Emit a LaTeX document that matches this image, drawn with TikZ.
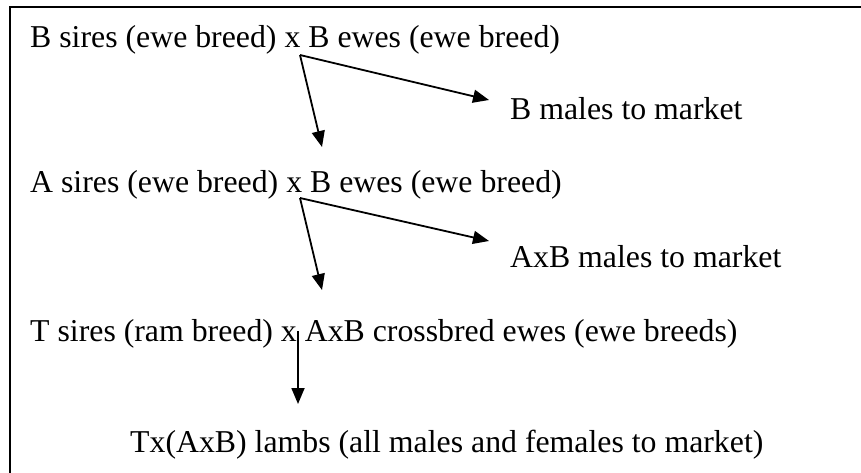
\documentclass[tikz,border=0pt]{standalone}
\usepackage{fontspec}
\setmainfont{Liberation Serif}
\usetikzlibrary{arrows.meta}
\begin{document}
\begin{tikzpicture}[x=1pt,y=-1pt,
  lbl/.style={anchor=base west,inner sep=0pt,font=\fontsize{31.8}{38}\selectfont},
  arr/.style={line width=1.8pt,-{Triangle[length=16pt,width=13pt]}},
  frame/.style={line width=1.8pt}]
\useasboundingbox (0,0) rectangle (861,473);
\draw[frame] (10,7) rectangle (880,490);
% texts
\node[lbl] (l1) at (30,48) {B sires (ewe breed) x B ewes (ewe breed)};
\node[lbl] (m1) at (510,120) {B males to market};
\node[lbl] (l2) at (30,193) {A sires (ewe breed) x B ewes (ewe breed)};
\node[lbl] (m2) at (510,267) {AxB males to market};
\node[lbl] (l3) at (30,341) {T sires (ram breed) x AxB crossbred ewes (ewe breeds)};
\node[lbl] (l4) at (130,452) {Tx(AxB) lambs (all males and females to market)};
% arrow points
\coordinate (o1) at (300,55);
\coordinate (r1) at (489,100);
\coordinate (d1) at (322,147);
\coordinate (o2) at (300,198);
\coordinate (r2) at (489,241);
\coordinate (d2) at (322,290);
\coordinate (o3) at (298,331);
\coordinate (d3) at (298,404);
\draw[arr] (o1) -- (r1);
\draw[arr] (o1) -- (d1);
\draw[arr] (o2) -- (r2);
\draw[arr] (o2) -- (d2);
\draw[arr] (o3) -- (d3);
\end{tikzpicture}
\end{document}
